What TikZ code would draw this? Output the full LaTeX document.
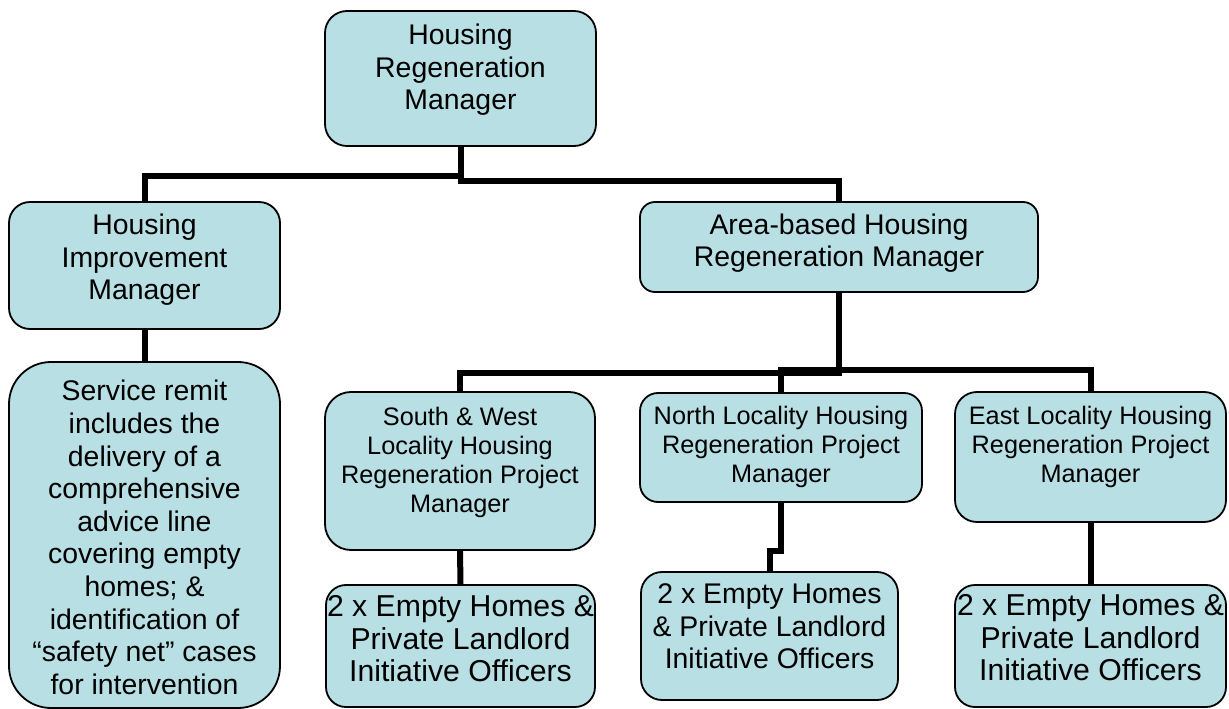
\documentclass[tikz,border=0pt]{standalone}
\usepackage{fontspec}
\setmainfont{Liberation Sans}
\definecolor{boxfill}{RGB}{184,223,228}
\begin{document}
\begin{tikzpicture}[x=1bp,y=-1bp,
  box/.style={draw=black, line width=1.8bp, fill=boxfill, inner sep=0pt, rectangle},
  txt/.style={align=center, inner sep=0pt, font=\fontsize{28.4bp}{32.6bp}\selectfont},
  smalltxt/.style={align=center, inner sep=0pt, font=\fontsize{25.3bp}{29bp}\selectfont},
  bigtxt/.style={align=center, inner sep=0pt, font=\fontsize{30.2bp}{32.5bp}\selectfont},
  link/.style={line width=6bp, line join=miter}]
\useasboundingbox (0,0) rectangle (1229,709);

% boxes
\node[box, rounded corners=22bp, minimum width=271bp, minimum height=135bp] (top) at (460.5,78.5) {};
\node[box, rounded corners=21bp, minimum width=271bp, minimum height=127bp] (him) at (144.5,265.5) {};
\node[box, rounded corners=15bp, minimum width=398bp, minimum height=90bp] (area) at (839,247) {};
\node[box, rounded corners=42bp, minimum width=271bp, minimum height=346bp] (remit) at (144.5,535) {};
\node[box, rounded corners=26bp, minimum width=270bp, minimum height=158bp] (sw) at (460,471) {};
\node[box, rounded corners=18bp, minimum width=282bp, minimum height=109bp] (north) at (781,447.5) {};
\node[box, rounded corners=22bp, minimum width=271bp, minimum height=130bp] (east) at (1090.5,457) {};
\node[box, rounded corners=20bp, minimum width=269bp, minimum height=122bp] (swo) at (460.5,646) {};
\node[box, rounded corners=21bp, minimum width=257bp, minimum height=128bp] (northo) at (769.5,636) {};
\node[box, rounded corners=20bp, minimum width=271bp, minimum height=122bp] (easto) at (1090.5,646) {};

% texts
\node[txt] (top-t) at (460.5,70) {Housing\\Regeneration\\Manager};
\node[txt] (him-t) at (144.5,260) {Housing\\Improvement\\Manager};
\node[txt] (area-t) at (839,243) {Area-based Housing\\Regeneration Manager};
\node[txt] (remit-t) at (144.5,537.5) {Service remit\\includes the\\delivery of a\\comprehensive\\advice line\\covering empty\\homes; \&\\identification of\\“safety net” cases\\for intervention};
\node[smalltxt] (sw-t) at (460,462) {South \& West\\Locality Housing\\Regeneration Project\\Manager};
\node[smalltxt] (north-t) at (781,447) {North Locality Housing\\Regeneration Project\\Manager};
\node[smalltxt] (east-t) at (1090.5,447) {East Locality Housing\\Regeneration Project\\Manager};
\node[bigtxt] (swo-t) at (460.5,639) {2 x Empty Homes \&\\Private Landlord\\Initiative Officers};
\node[txt] (northo-t) at (769.5,626.5) {2 x Empty Homes\\\& Private Landlord\\Initiative Officers};
\node[bigtxt] (easto-t) at (1090.5,638) {2 x Empty Homes \&\\Private Landlord\\Initiative Officers};

% connectors
\draw[link] (top.south) -- ++(0,29) -| (him.north);
\draw[link] (top.south) -- ++(0,34) -| (area.north);
\draw[link] (him.south) -- (remit.north);
\draw[link] (area.south) -- ++(0,80) -| (sw.north);
\draw[link] (area.south) -- ++(0,77.5) -| (north.north);
\draw[link] (area.south) -- ++(0,77.5) -| (east.north);
\draw[link] (sw.south) -- (swo.north);
\draw[link] (north.south) -- ++(0,48) -| (northo.north);
\draw[link] (east.south) -- (easto.north);
\end{tikzpicture}
\end{document}
